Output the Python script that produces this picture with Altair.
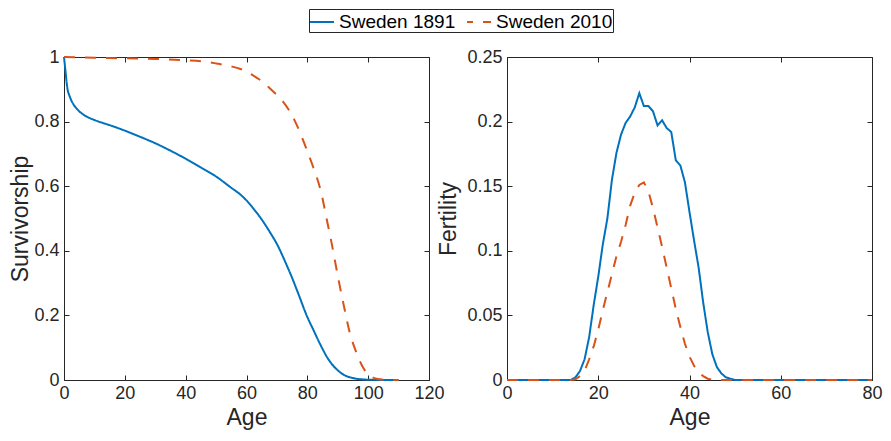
import altair as alt
import pandas as pd

SERIES = ["Sweden 1891", "Sweden 2010"]
COLORS = ["#0072BD", "#D95319"]
DASHES = [[1, 0], [11, 10]]

# Survivorship (left panel)
surv_age_1891 = [0, 0.5, 1, 2, 3, 4, 5, 7, 10, 13, 15, 18, 20, 25, 30, 35, 40, 43, 45, 50, 55,
                 58, 60, 62, 65, 68, 70, 73, 75, 77, 80, 82, 84, 87, 90, 92, 95, 98, 100, 105, 110]
surv_1891 = [1.0, 0.955, 0.91, 0.875, 0.855, 0.842, 0.832, 0.818, 0.805, 0.795, 0.789, 0.779,
             0.772, 0.753, 0.733, 0.71, 0.685, 0.669, 0.658, 0.63, 0.595, 0.574, 0.556, 0.534,
             0.497, 0.453, 0.421, 0.360, 0.316, 0.268, 0.195, 0.155, 0.115, 0.063, 0.030, 0.016,
             0.006, 0.002, 0.001, 0.0002, 0.0]
surv_age_2010 = [0, 10, 20, 30, 40, 45, 50, 55, 58, 60, 62, 64, 66, 68, 70, 72, 74, 76, 78, 80,
                 82, 84, 85, 86, 88, 90, 92, 94, 96, 98, 100, 102, 104, 106, 110]
surv_2010 = [1.0, 0.998, 0.996, 0.994, 0.99, 0.987, 0.98, 0.971, 0.963, 0.955, 0.944, 0.932,
             0.918, 0.90, 0.882, 0.862, 0.835, 0.80, 0.757, 0.708, 0.657, 0.60, 0.562, 0.515,
             0.423, 0.323, 0.23, 0.145, 0.088, 0.044, 0.017, 0.006, 0.002, 0.0005, 0.0]

# Fertility (right panel)
fert_age_1891 = [0, 14, 15, 16, 17, 18, 19, 20, 21, 22, 23, 24, 25, 26, 27, 28, 29, 30, 31, 32,
                 33, 34, 35, 36, 37, 38, 39, 40, 41, 42, 43, 44, 45, 46, 47, 48, 49, 50, 80]
fert_1891 = [0, 0, 0.002, 0.007, 0.016, 0.033, 0.058, 0.080, 0.105, 0.125, 0.155, 0.176, 0.190,
             0.199, 0.204, 0.211, 0.222, 0.212, 0.212, 0.208, 0.197, 0.201, 0.195, 0.192, 0.170,
             0.166, 0.153, 0.130, 0.108, 0.087, 0.060, 0.037, 0.020, 0.010, 0.005, 0.002, 0.001,
             0, 0]
fert_age_2010 = [0, 14, 15, 16, 17, 18, 19, 20, 21, 22, 23, 24, 25, 26, 27, 28, 29, 30, 31, 32,
                 33, 34, 35, 36, 37, 38, 39, 40, 41, 42, 43, 44, 45, 46, 80]
fert_2010 = [0, 0, 0.0005, 0.003, 0.007, 0.016, 0.026, 0.039, 0.054, 0.068, 0.082, 0.096, 0.107,
             0.120, 0.135, 0.145, 0.151, 0.153, 0.146, 0.133, 0.118, 0.103, 0.087, 0.071, 0.055,
             0.041, 0.028, 0.018, 0.011, 0.006, 0.003, 0.001, 0.0003, 0, 0]

surv_x_ticks = [0, 20, 40, 60, 80, 100, 120]
surv_y_ticks = [0, 0.2, 0.4, 0.6, 0.8, 1]
fert_x_ticks = [0, 20, 40, 60, 80]
fert_y_ticks = [0, 0.05, 0.1, 0.15, 0.2, 0.25]


def frame(ages_a, vals_a, ages_b, vals_b):
    a = pd.DataFrame({"age": ages_a, "value": vals_a, "series": SERIES[0]})
    b = pd.DataFrame({"age": ages_b, "value": vals_b, "series": SERIES[1]})
    return pd.concat([a, b], ignore_index=True)


surv_df = frame(surv_age_1891, surv_1891, surv_age_2010, surv_2010)
fert_df = frame(fert_age_1891, fert_1891, fert_age_2010, fert_2010)

W, H = 365, 323
FONT = "Liberation Sans"
AXC = "#262626"

legend = alt.Legend(
    title=None, orient="none", legendX=245, legendY=-48, direction="horizontal", columns=2,
    symbolType="stroke", symbolSize=576, symbolStrokeWidth=2, labelFontSize=19, labelFont=FONT,
    labelColor="black", strokeColor="#262626", fillColor="white", padding=0, labelOffset=4,
    columnPadding=7, symbolDashOffset=5,
)


def panel(df, xdom, xvals, ydom, yvals, ytitle, ytitle_x, interp):
    xs = alt.Scale(domain=xdom, nice=False, zero=False)
    ys = alt.Scale(domain=ydom, nice=False, zero=False)
    main = alt.Chart(df).mark_line(strokeWidth=2, interpolate=interp).encode(
        x=alt.X("age:Q", scale=xs, axis=alt.Axis(
            orient="bottom", values=xvals, format="d", ticks=False, domain=False, grid=False,
            labelOverlap=False, labelFlush=False, labelPadding=4, title="Age", titleX=W / 2,
            titleY=44, titleBaseline="alphabetic", titleAlign="center")),
        y=alt.Y("value:Q", scale=ys, axis=alt.Axis(
            orient="left", values=yvals, format="~g", ticks=False, domain=False, grid=False,
            labelOverlap=False, labelFlush=False, labelPadding=5, title=ytitle,
            titleX=ytitle_x, titleY=H / 2, titleAngle=270, titleBaseline="alphabetic",
            titleAlign="center")),
        color=alt.Color("series:N", scale=alt.Scale(domain=SERIES, range=COLORS), legend=legend),
        strokeDash=alt.StrokeDash("series:N", scale=alt.Scale(domain=SERIES, range=DASHES),
                                  legend=legend),
    )
    tick_a = alt.Chart(df).mark_line(opacity=0).encode(
        x=alt.X("age:Q", scale=xs, axis=alt.Axis(
            orient="top", offset=-H, values=xvals, labels=False, domain=False, grid=False,
            tickSize=5, tickColor=AXC, title=None)),
        y=alt.Y("value:Q", scale=ys, axis=alt.Axis(
            orient="right", offset=-W, values=yvals, labels=False, domain=False, grid=False,
            tickSize=5, tickColor=AXC, title=None)),
    )
    tick_b = alt.Chart(df).mark_line(opacity=0).encode(
        x=alt.X("age:Q", scale=xs, axis=alt.Axis(
            orient="bottom", offset=-H, values=xvals, labels=False, domain=False, grid=False,
            tickSize=5, tickColor=AXC, title=None)),
        y=alt.Y("value:Q", scale=ys, axis=alt.Axis(
            orient="left", offset=-W, values=yvals, labels=False, domain=False, grid=False,
            tickSize=5, tickColor=AXC, title=None)),
    )
    return alt.layer(main, tick_a, tick_b).resolve_axis(
        x="independent", y="independent").properties(width=W, height=H)


left = panel(surv_df, [0, 120], surv_x_ticks, [0, 1], surv_y_ticks, "Survivorship", -36.6,
             "monotone")
right = panel(fert_df, [0, 80], fert_x_ticks, [0, 0.25], fert_y_ticks, "Fertility", -51.5,
              "linear")

chart = alt.hconcat(left, right, spacing=78, bounds="flush").resolve_scale(
    color="shared", strokeDash="shared").properties(
    padding=0, background="white"
).configure_view(stroke=AXC, strokeWidth=1).configure_axis(
    labelFont=FONT, labelFontSize=18, labelColor=AXC, titleFont=FONT, titleFontSize=23,
    titleColor=AXC, titleFontWeight="normal",
)

chart.save("out.html", embed_options={"renderer": "svg", "actions": False})
